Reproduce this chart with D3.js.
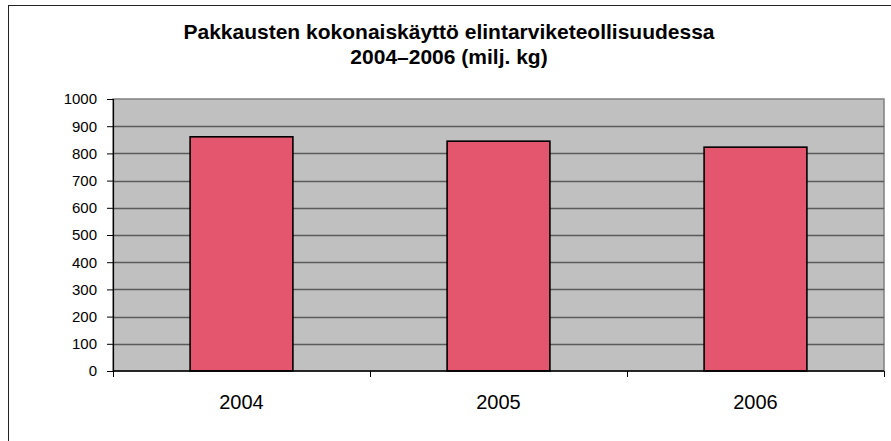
<!DOCTYPE html>
<html>
<head>
<meta charset="utf-8">
<script src="https://cdn.jsdelivr.net/npm/d3@7"></script>
<style>
  body { margin: 0; background: #fff; }
  svg { display: block; }
</style>
</head>
<body>
<div id="chart"></div>
<script>
const years = ['2004', '2005', '2006'];
const values = [861, 845, 823];
const yTicks = [0, 100, 200, 300, 400, 500, 600, 700, 800, 900, 1000];
const titleLines = ['Pakkausten kokonaiskäyttö elintarviketeollisuudessa', '2004–2006 (milj. kg)'];

const W = 891, H = 441;
const plot = { left: 113, right: 884, top: 99, bottom: 371 };
const font = 'Arial, "Liberation Sans", sans-serif';

const svg = d3.select('#chart').append('svg')
    .attr('width', W)
    .attr('height', H)
    .style('font-family', font);

// kehys
svg.append('rect')
    .attr('x', 8.5).attr('y', 5.5)
    .attr('width', W + 20).attr('height', H + 20)
    .attr('fill', '#fff')
    .attr('stroke', '#222').attr('stroke-width', 1);

const x = d3.scaleBand()
    .domain(years)
    .range([plot.left, plot.right])
    .paddingInner(0.6).paddingOuter(0.3);

const band = d3.scaleBand().domain(years).range([plot.left, plot.right]);

const y = d3.scaleLinear()
    .domain([0, 1000])
    .range([plot.bottom, plot.top]);

// tausta
svg.append('rect')
    .attr('x', plot.left).attr('y', plot.top)
    .attr('width', plot.right - plot.left)
    .attr('height', plot.bottom - plot.top)
    .attr('fill', '#c0c0c0')
    .attr('stroke', '#808080').attr('stroke-width', 1.5);

// ruudukko
svg.append('g').selectAll('line')
    .data(yTicks.filter(d => d > 0 && d < 1000))
    .join('line')
    .attr('x1', plot.left).attr('x2', plot.right)
    .attr('y1', d => Math.round(y(d)) + 0.5).attr('y2', d => Math.round(y(d)) + 0.5)
    .attr('stroke', '#5a5a5a').attr('stroke-width', 1.3);

// pylväät
svg.append('g').selectAll('rect')
    .data(values)
    .join('rect')
    .attr('x', (d, i) => x(years[i]))
    .attr('y', d => y(d))
    .attr('width', x.bandwidth())
    .attr('height', d => plot.bottom - y(d))
    .attr('fill', '#e3566e')
    .attr('stroke', '#000').attr('stroke-width', 1.6);

// y-akseli
const yAxis = svg.append('g')
    .attr('transform', `translate(${plot.left},0)`)
    .call(d3.axisLeft(y).tickValues(yTicks).tickFormat(d3.format('d')).tickSize(6).tickPadding(10));
yAxis.select('.domain').attr('stroke', '#000').attr('stroke-width', 1.2);
yAxis.selectAll('.tick line').attr('stroke', '#000');
yAxis.selectAll('text').attr('fill', '#000').style('font-size', '15px')
    .style('font-family', font);

// x-akseli
const xAxis = svg.append('g')
    .attr('transform', `translate(0,${plot.bottom})`);
xAxis.append('line')
    .attr('x1', plot.left).attr('x2', plot.right)
    .attr('stroke', '#000').attr('stroke-width', 1.5);
xAxis.selectAll('line.tk')
    .data([...years.map(d => band(d)), plot.right])
    .join('line')
    .attr('class', 'tk')
    .attr('x1', d => Math.round(d) + 0.5).attr('x2', d => Math.round(d) + 0.5)
    .attr('y1', 0).attr('y2', 6)
    .attr('stroke', '#000');
xAxis.selectAll('text')
    .data(years)
    .join('text')
    .attr('x', d => band(d) + band.bandwidth() / 2)
    .attr('y', 38)
    .attr('text-anchor', 'middle')
    .attr('fill', '#000')
    .style('font-size', '20px')
    .text(d => d);

// otsikko
svg.append('text')
    .attr('text-anchor', 'middle')
    .style('font-size', '21px')
    .style('font-weight', 'bold')
    .selectAll('tspan')
    .data(titleLines)
    .join('tspan')
    .attr('x', 449)
    .attr('y', (d, i) => 39 + i * 25)
    .text(d => d);
</script>
</body>
</html>
